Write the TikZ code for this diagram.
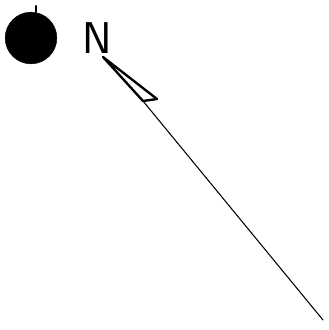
\documentclass[tikz,border=0pt]{standalone}
\usepackage{tikz}
\usetikzlibrary{positioning}

\begin{document}
\begin{tikzpicture}[x=0.03cm, y=-0.03cm,
  sundot/.style={draw, fill=black, circle, minimum size=1.55cm, inner sep=0pt},
  label/.style={font=\sffamily\fontsize{38}{38}\selectfont, inner sep=0pt},
  pen/.style={line width=1.6pt, line join=round, line cap=round},
  ray/.style={line width=0.9pt, line cap=round}
]
  \useasboundingbox (0,0) rectangle (328,330);

  \node[sundot] (sun) at (31,38) {};
  \draw[pen] (sun.north) ++(5,0) -- ++(0,-6);

  \node[label] (north) at (97,38) {N};

  % needle
  \coordinate (tip) at (103,57);
  \coordinate (barb) at (157,99);
  \coordinate (base) at (143,101);
  \coordinate (tail) at (323,320);
  \draw[pen, line width=2pt] (tip) -- (barb) -- (base) -- cycle;
  \draw[ray] (base) -- (tail);
\end{tikzpicture}
\end{document}
